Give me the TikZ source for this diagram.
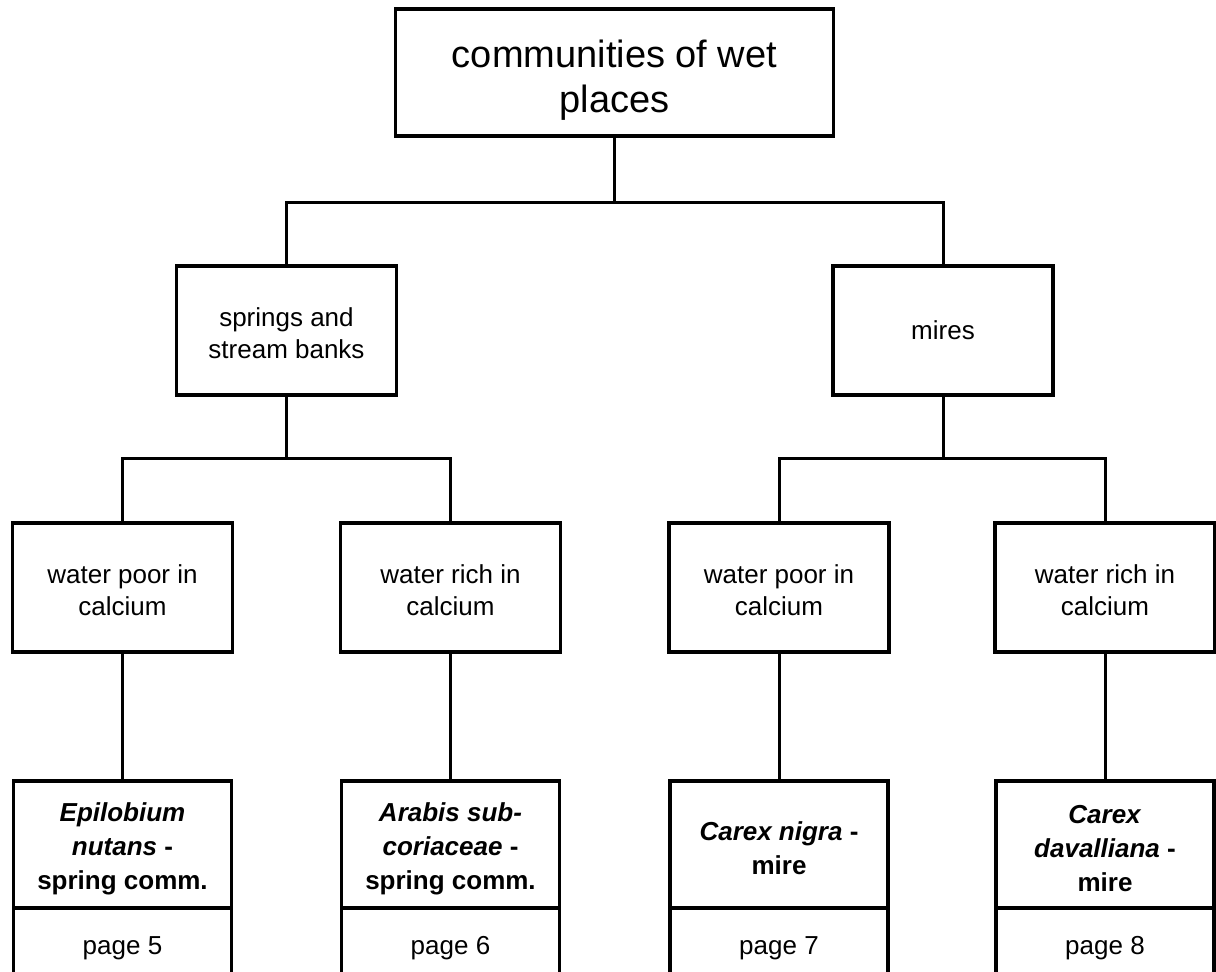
\documentclass[tikz,border=0pt]{standalone}
\usepackage{fontspec}
\setmainfont{Liberation Sans}
\usetikzlibrary{positioning}
\newcommand{\wplow}[1]{\rule{0pt}{#1}}
\tikzset{
  wpbox/.style={draw=black, line width=1.8pt, fill=white, align=center, inner sep=0pt, outer sep=0pt},
  wptop/.style={wpbox, minimum width=219pt, minimum height=63.5pt, font=\fontsize{19}{22.5}\selectfont},
  wpmid/.style={wpbox, minimum width=110pt, minimum height=64.5pt, font=\fontsize{13}{16}\selectfont},
  wpkind/.style={wpbox, minimum width=109pt, minimum height=63.5pt, font=\bfseries\fontsize{13}{17}\selectfont},
  wppage/.style={wpbox, minimum width=109pt, minimum height=40pt, font=\fontsize{13}{16}\selectfont},
  wplink/.style={line width=1.5pt, draw=black},
}

\begin{document}
\begin{tikzpicture}[x=0.5pt, y=-0.5pt]
\useasboundingbox (0,0) rectangle (1216,971);
\node[wptop] (top) at (614.5,72.5) {\wplow{21pt}communities of wet\\places};
\node[wpmid] (spr) at (286.5,330.5) {\wplow{12.5pt}springs and\\stream banks};
\node[wpmid] (mir) at (943,330.5) {mires};
\node[wpmid] (sprpoor) at (122.5,587.5) {\wplow{12.5pt}water poor in\\calcium};
\node[wpmid] (sprrich) at (450.5,587.5) {\wplow{12.5pt}water rich in\\calcium};
\node[wpmid] (mirpoor) at (779,587.5) {\wplow{12.5pt}water poor in\\calcium};
\node[wpmid] (mirrich) at (1105,587.5) {\wplow{12.5pt}water rich in\\calcium};
\node[wpkind] (kind1) at (122.5,844.5) {\wplow{13.5pt}\textit{Epilobium}\\\textit{nutans} -\\spring comm.};
\node[wpkind] (kind2) at (450.5,844.5) {\wplow{13.5pt}\textit{Arabis sub-}\\\textit{coriaceae} -\\spring comm.};
\node[wpkind] (kind3) at (779,844.5) {\wplow{13.5pt}\textit{Carex nigra} -\\mire};
\node[wpkind] (kind4) at (1105,844.5) {\wplow{13.5pt}\textit{Carex}\\\textit{davalliana} -\\mire};
\node[wppage, below=0pt of kind1] (page1) {page 5};
\node[wppage, below=0pt of kind2] (page2) {page 6};
\node[wppage, below=0pt of kind3] (page3) {page 7};
\node[wppage, below=0pt of kind4] (page4) {page 8};
\coordinate (j0) at (614.5,202);
\coordinate (j1) at (286.5,458);
\coordinate (j2) at (943,458);
\draw[wplink] (top.south) -- (j0);
\draw[wplink] (spr.north) |- (j0) -| (mir.north);
\draw[wplink] (spr.south) -- (j1);
\draw[wplink] (sprpoor.north) |- (j1) -| (sprrich.north);
\draw[wplink] (mir.south) -- (j2);
\draw[wplink] (mirpoor.north) |- (j2) -| (mirrich.north);
\draw[wplink] (sprpoor.south) -- (kind1.north);
\draw[wplink] (sprrich.south) -- (kind2.north);
\draw[wplink] (mirpoor.south) -- (kind3.north);
\draw[wplink] (mirrich.south) -- (kind4.north);
\end{tikzpicture}
\end{document}
